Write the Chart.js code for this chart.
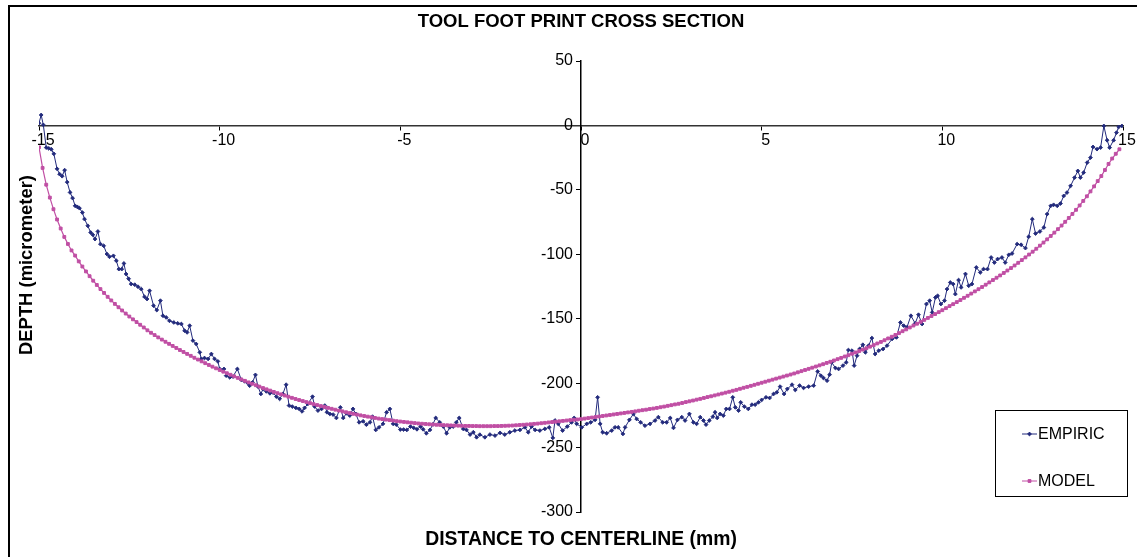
<!DOCTYPE html>
<html>
<head>
<meta charset="utf-8">
<script src="https://cdn.jsdelivr.net/npm/chart.js@4.4.1/dist/chart.umd.min.js"></script>
<style>
  html, body { margin: 0; padding: 0; background: #fff; }
  #wrap { position: relative; width: 1137px; height: 557px; }
</style>
</head>
<body>
<div id="wrap"><canvas id="chart1" width="1137" height="557"></canvas></div>
<script>
// measured profile, x in mm, depth in micrometer
const empX = [
  -15.0, -14.94, -14.88, -14.8, -14.73, -14.66, -14.59, -14.5, -14.43, -14.36,
  -14.29, -14.22, -14.14, -14.07, -14.0, -13.94, -13.88, -13.8, -13.74, -13.65,
  -13.57, -13.51, -13.45, -13.37, -13.3, -13.21, -13.12, -13.05, -12.94, -12.86,
  -12.79, -12.71, -12.65, -12.59, -12.52, -12.45, -12.35, -12.26, -12.17, -12.08,
  -12.01, -11.94, -11.83, -11.74, -11.64, -11.57, -11.48, -11.39, -11.27, -11.16,
  -11.06, -10.97, -10.9, -10.83, -10.74, -10.65, -10.55, -10.51, -10.42, -10.32,
  -10.23, -10.14, -10.05, -10.0, -9.88, -9.82, -9.72, -9.63, -9.51, -9.4,
  -9.31, -9.22, -9.17, -9.09, -9.01, -8.94, -8.86, -8.8, -8.71, -8.61,
  -8.52, -8.43, -8.34, -8.25, -8.16, -8.08, -7.99, -7.89, -7.8, -7.72,
  -7.65, -7.56, -7.43, -7.37, -7.28, -7.18, -7.09, -7.03, -6.95, -6.86,
  -6.77, -6.66, -6.58, -6.49, -6.4, -6.31, -6.23, -6.14, -6.03, -5.94,
  -5.84, -5.77, -5.68, -5.59, -5.48, -5.38, -5.29, -5.2, -5.11, -5.0,
  -4.91, -4.82, -4.72, -4.63, -4.54, -4.44, -4.37, -4.28, -4.18, -4.1,
  -4.02, -3.91, -3.81, -3.72, -3.63, -3.54, -3.45, -3.37, -3.26, -3.17,
  -3.07, -2.98, -2.89, -2.8, -2.66, -2.52, -2.38, -2.24, -2.11, -1.97,
  -1.83, -1.69, -1.55, -1.46, -1.37, -1.27, -1.14, -1.0, -0.88, -0.78,
  -0.72, -0.63, -0.51, -0.38, -0.26, -0.19, -0.12, 0.02, 0.16, 0.27,
  0.39, 0.46, 0.53, 0.6, 0.71, 0.85, 0.94, 1.03, 1.16, 1.22,
  1.34, 1.45, 1.54, 1.65, 1.77, 1.91, 2.05, 2.14, 2.26, 2.37,
  2.47, 2.56, 2.67, 2.79, 2.88, 3.0, 3.11, 3.2, 3.3, 3.39,
  3.46, 3.55, 3.65, 3.71, 3.77, 3.85, 3.94, 4.02, 4.11, 4.2,
  4.27, 4.36, 4.42, 4.52, 4.63, 4.73, 4.82, 4.91, 5.0, 5.12,
  5.22, 5.33, 5.42, 5.51, 5.62, 5.71, 5.84, 5.93, 6.05, 6.16,
  6.3, 6.44, 6.55, 6.64, 6.71, 6.81, 6.88, 6.94, 7.04, 7.13,
  7.25, 7.34, 7.4, 7.5, 7.56, 7.64, 7.71, 7.8, 7.87, 7.96,
  8.05, 8.14, 8.24, 8.36, 8.47, 8.61, 8.73, 8.84, 8.93, 9.02,
  9.13, 9.25, 9.34, 9.44, 9.56, 9.65, 9.72, 9.81, 9.87, 9.96,
  10.06, 10.13, 10.22, 10.3, 10.36, 10.45, 10.52, 10.64, 10.73, 10.82,
  10.94, 11.05, 11.14, 11.25, 11.35, 11.44, 11.53, 11.65, 11.74, 11.84,
  11.93, 12.07, 12.18, 12.3, 12.39, 12.49, 12.58, 12.7, 12.81, 12.9,
  13.0, 13.08, 13.18, 13.27, 13.36, 13.45, 13.55, 13.66, 13.75, 13.82,
  13.91, 14.01, 14.1, 14.17, 14.28, 14.38, 14.47, 14.56, 14.63, 14.74,
  14.82, 14.88, 14.97
];
const empY = [
  1.7, 8.1, 0.4, -17.2, -17.8, -18.5, -22, -33.7, -37.8, -39.4,
  -34.7, -44, -52, -56.4, -62.4, -63.2, -64.2, -67.6, -72.7, -77.9,
  -83.1, -84.9, -88.2, -82.3, -92.1, -93.4, -99.8, -101.9, -101.2, -105,
  -111.5, -111.5, -107.1, -115.3, -119, -123.1, -123.6, -125.2, -127, -133,
  -134.7, -128.3, -139.9, -143.3, -136, -147.7, -149, -151.6, -152.9, -153.6,
  -154.1, -159.3, -160.6, -155.4, -167, -169.6, -176.1, -181.2, -180.5, -181.2,
  -177.4, -181.2, -183.1, -189, -189, -194.2, -195.5, -194.9, -189, -197.5,
  -198.6, -200, -202, -199.4, -193.6, -202.7, -208.4, -204.5, -206.4, -207.9,
  -207.4, -210.5, -212.2, -208.4, -201.2, -217.4, -218.2, -219.2, -220, -221.9,
  -219.2, -216.1, -210.5, -218.2, -221.3, -220, -217.4, -222.6, -223.9, -224.4,
  -227, -218.8, -227, -223.4, -225.2, -220, -223.9, -230.4, -229.6, -232.2,
  -230.4, -226, -236.3, -234.3, -231.6, -222.6, -220, -231.6, -232.2, -236,
  -236, -236.3, -233.7, -234.7, -235.8, -233.7, -235.8, -238.9, -236.3, -232,
  -227, -230.4, -233.7, -238.9, -234.3, -233.7, -230.4, -227, -235.5, -236.3,
  -239.9, -238.1, -242, -240, -242, -239.9, -240.7, -238.6, -239.9, -238.1,
  -236.8, -236.3, -234.3, -238.1, -233.7, -236.3, -236.8, -235.5, -234.3, -242.5,
  -229, -231.6, -236.8, -233.7, -230.4, -227, -231.6, -234.3, -231.6, -230.4,
  -228.5, -211, -231.6, -238.1, -238.9, -236.8, -234.3, -234.3, -239.4, -234.3,
  -228.5, -223.9, -227.8, -230.4, -233, -231.6, -229, -226.4, -230.4, -230.4,
  -227, -234.7, -228.5, -226.4, -229, -223.9, -230.4, -231.6, -226.4, -229,
  -232.2, -229, -226, -222.6, -227, -223.9, -225.2, -220, -220, -211,
  -218.8, -221.3, -214.9, -218.2, -220, -216.7, -216.7, -214.9, -213, -211,
  -211.5, -208.4, -207.1, -202.7, -208.4, -204.5, -201.2, -205.3, -201.9, -203.7,
  -202.7, -201.9, -190.9, -194.2, -196, -198.1, -193.4, -183.9, -188.2, -189,
  -186.4, -183.9, -174.3, -174.8, -186.4, -178.7, -173.5, -170.2, -176.1, -170.9,
  -165, -177.4, -174.8, -173.5, -170.9, -165.7, -164.5, -152.9, -155.4, -156.7,
  -147.7, -153.6, -146.9, -154.1, -138.6, -136, -145.1, -133.5, -132.2, -138.6,
  -136, -127, -121.9, -123.1, -130.9, -120, -125.7, -115.3, -124.4, -123.1,
  -110.2, -114.1, -111.5, -111.5, -102.5, -106.4, -103.7, -102.5, -106.4, -100.4,
  -99.4, -92.1, -92.6, -95.2, -86.4, -72.7, -83.9, -82.3, -79.2, -68.8,
  -62.4, -61.6, -62.4, -60.6, -54.7, -52.1, -46.9, -40.5, -35.3, -40.5,
  -36.6, -28.8, -25, -16.7, -18.4, -17.2, -0.4, -11.5, -17.2, -11.5,
  -5.6, -1.2, -0.4
];

// model profile sampled every 0.1 mm from -15.0 to 14.9
const modelStart = -15.0;
const modelStep = 0.1;
const modelY = [
  -17, -33, -46, -56, -65, -73, -80, -86.5, -92, -97,
  -101, -105.5, -109.5, -113.3, -117, -120.5, -123.8, -127, -130, -133,
  -135.8, -138.5, -141.1, -143.6, -146, -148.3, -150.5, -152.6, -154.7, -156.8,
  -159, -160.9, -162.7, -164.5, -166.2, -167.9, -169.5, -171.1, -172.7, -174.3,
  -175.8, -177.3, -178.8, -180.3, -181.7, -183.1, -184.5, -185.9, -187.2, -188.5,
  -189.8, -191.1, -192.3, -193.5, -194.7, -195.9, -197.1, -198.2, -199.4, -200.5,
  -201.6, -202.7, -203.8, -204.8, -205.8, -206.8, -207.8, -208.7, -209.6, -210.5,
  -211.4, -212.3, -213.1, -213.9, -214.7, -215.5, -216.3, -217, -217.8, -218.5,
  -219.2, -219.9, -220.6, -221.3, -221.9, -222.6, -223.2, -223.8, -224.4, -225,
  -225.5, -226, -226.5, -227, -227.5, -227.9, -228.3, -228.7, -229.1, -229.5,
  -229.8, -230.1, -230.4, -230.7, -231, -231.3, -231.5, -231.7, -231.9, -232.1,
  -232.3, -232.4, -232.6, -232.7, -232.8, -232.9, -233, -233.1, -233.2, -233.2,
  -233.3, -233.3, -233.4, -233.4, -233.4, -233.4, -233.3, -233.3, -233.2, -233.1,
  -233, -232.9, -232.7, -232.5, -232.3, -232.1, -231.9, -231.6, -231.4, -231.1,
  -230.8, -230.5, -230.2, -229.9, -229.6, -229.3, -229, -228.7, -228.4, -228.2,
  -227.9, -227.5, -227.1, -226.7, -226.3, -225.9, -225.5, -225.1, -224.7, -224.3,
  -223.9, -223.5, -223.1, -222.7, -222.3, -221.9, -221.4, -221, -220.6, -220.1,
  -219.7, -219.2, -218.7, -218.2, -217.6, -217.1, -216.5, -216, -215.4, -214.7,
  -214.1, -213.5, -212.8, -212.2, -211.5, -210.8, -210.2, -209.5, -208.8, -208.1,
  -207.4, -206.7, -205.9, -205.2, -204.4, -203.6, -202.9, -202.1, -201.3, -200.5,
  -199.7, -198.9, -198.1, -197.3, -196.5, -195.7, -194.9, -194.1, -193.3, -192.5,
  -191.6, -190.7, -189.8, -188.9, -188, -187.1, -186.2, -185.3, -184.3, -183.4,
  -182.4, -181.4, -180.4, -179.3, -178.3, -177.2, -176.2, -175.1, -174, -172.9,
  -171.7, -170.5, -169.2, -168, -166.7, -165.3, -164, -162.6, -161.2, -159.7,
  -158.3, -156.8, -155.3, -153.9, -152.4, -150.9, -149.4, -147.9, -146.4, -144.9,
  -143.4, -141.8, -140.2, -138.7, -137.1, -135.5, -133.8, -132.2, -130.5, -128.8,
  -127.1, -125.4, -123.6, -121.8, -120, -118.2, -116.4, -114.5, -112.6, -110.7,
  -108.7, -106.6, -104.5, -102.4, -100.2, -98, -95.7, -93.3, -90.9, -88.4,
  -85.8, -83.2, -80.5, -77.7, -74.8, -71.8, -68.7, -65.5, -62.1, -58.6,
  -55, -51.2, -47.3, -43.2, -39.3, -34.6, -29.9, -25.7, -22, -18.5
];

const seriesNames = ['EMPIRIC', 'MODEL'];
const chartTitle = 'TOOL FOOT PRINT CROSS SECTION';
const xTitle = 'DISTANCE TO CENTERLINE (mm)';
const yTitle = 'DEPTH (micrometer)';

const NAVY = '#222a7c';
const PINK = '#c04fa4';
const FONT = "'Liberation Sans', Arial, sans-serif";

Chart.defaults.font.family = FONT;
Chart.defaults.color = '#000';

// titles, frame and the boxed legend are painted here
const decor = {
  id: 'decor',
  afterDraw(chart) {
    const ctx = chart.ctx;
    ctx.save();
    ctx.fillStyle = '#000';
    ctx.fillRect(8, 5, chart.width - 8, 2);
    ctx.fillRect(8, 5, 2, chart.height - 5);

    ctx.textAlign = 'center';
    ctx.textBaseline = 'middle';
    ctx.font = 'bold 18.5px ' + FONT;
    ctx.fillText(chartTitle, 581, 22);
    ctx.font = 'bold 19.4px ' + FONT;
    ctx.fillText(xTitle, 581, 540);

    ctx.save();
    ctx.translate(27, 265);
    ctx.rotate(-Math.PI / 2);
    ctx.font = 'bold 18.4px ' + FONT;
    ctx.fillText(yTitle, 0, 0);
    ctx.restore();

    // legend box
    ctx.strokeStyle = '#000';
    ctx.lineWidth = 1;
    ctx.fillStyle = '#fff';
    ctx.fillRect(995.5, 410.5, 132, 86);
    ctx.strokeRect(995.5, 410.5, 132, 86);
    const rows = [434, 481];
    chart.data.datasets.forEach(function(ds, i) {
      const y = rows[i];
      ctx.strokeStyle = ds.borderColor;
      ctx.fillStyle = ds.backgroundColor;
      ctx.lineWidth = 1;
      ctx.beginPath();
      ctx.moveTo(1022, y);
      ctx.lineTo(1037, y);
      ctx.stroke();
      Chart.helpers.drawPoint(ctx, {
        pointStyle: ds.pointStyle, radius: ds.pointRadius, borderWidth: ds.pointBorderWidth
      }, 1029.5, y);
      ctx.fillStyle = '#000';
      ctx.textAlign = 'left';
      ctx.font = '16px ' + FONT;
      ctx.fillText(ds.label, 1038, y + 1);
    });
    ctx.restore();
  }
};

const chart1 = new Chart(document.getElementById('chart1'), {
  type: 'line',
  data: {
    datasets: [{
      label: seriesNames[0],
      data: empX.map(function(x, i) { return { x: x, y: empY[i] }; }),
      borderColor: NAVY,
      backgroundColor: NAVY,
      borderWidth: 1,
      pointStyle: 'rectRot',
      pointRadius: 1.9,
      pointBorderWidth: 0.9,
      order: 1
    }, {
      label: seriesNames[1],
      data: modelY.map(function(y, i) { return { x: modelStart + i * modelStep, y: y }; }),
      borderColor: PINK,
      backgroundColor: PINK,
      borderWidth: 1.2,
      pointStyle: 'rect',
      pointRadius: 2,
      pointBorderWidth: 1,
      order: 0
    }]
  },
  options: {
    responsive: false,
    animation: false,
    layout: { padding: { left: 39, right: 14, top: 61, bottom: 45 } },
    plugins: {
      legend: { display: false },
      title: { display: false },
      tooltip: { enabled: false }
    },
    scales: {
      x: {
        type: 'linear',
        min: -15,
        max: 15,
        position: { y: 0 },
        ticks: { stepSize: 5, autoSkip: false, maxRotation: 0, padding: 2, labelOffset: 4, font: { size: 16 }, color: '#000' },
        grid: { drawOnChartArea: false, drawTicks: true, tickLength: 4, color: '#000' },
        border: { display: true, color: '#333', width: 1.5 }
      },
      y: {
        type: 'linear',
        min: -300,
        max: 50,
        position: { x: 0 },
        ticks: {
          stepSize: 50, autoSkip: false, font: { size: 16 }, color: '#000',
          // centred axis ignores padding, keep labels clear of the line
          callback: function(v) { return v + '\u2002'; }
        },
        grid: { drawOnChartArea: false, drawTicks: true, tickLength: 4, color: '#000' },
        border: { display: true, color: '#000', width: 1.5 }
      }
    }
  },
  plugins: [decor]
});
</script>
</body>
</html>
